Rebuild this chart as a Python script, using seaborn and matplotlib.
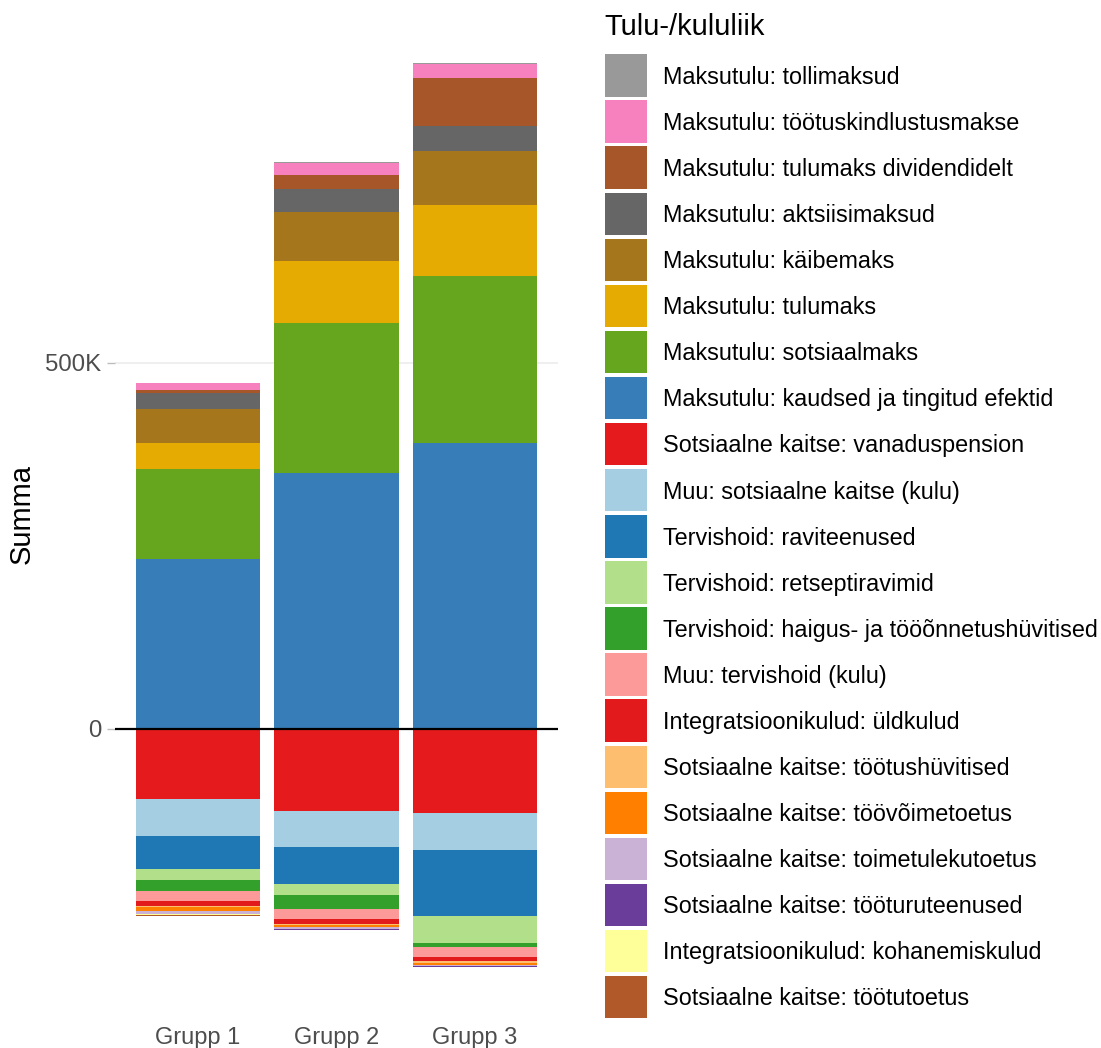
import numpy as np
import pandas as pd
import matplotlib
matplotlib.use("Agg")
import matplotlib.pyplot as plt
import seaborn as sns
from matplotlib.patches import Rectangle
from matplotlib.ticker import FuncFormatter

groups = ["Grupp 1", "Grupp 2", "Grupp 3"]

categories = [
    "Maksutulu: tollimaksud",
    "Maksutulu: töötuskindlustusmakse",
    "Maksutulu: tulumaks dividendidelt",
    "Maksutulu: aktsiisimaksud",
    "Maksutulu: käibemaks",
    "Maksutulu: tulumaks",
    "Maksutulu: sotsiaalmaks",
    "Maksutulu: kaudsed ja tingitud efektid",
    "Sotsiaalne kaitse: vanaduspension",
    "Muu: sotsiaalne kaitse (kulu)",
    "Tervishoid: raviteenused",
    "Tervishoid: retseptiravimid",
    "Tervishoid: haigus- ja tööõnnetushüvitised",
    "Muu: tervishoid (kulu)",
    "Integratsioonikulud: üldkulud",
    "Sotsiaalne kaitse: töötushüvitised",
    "Sotsiaalne kaitse: töövõimetoetus",
    "Sotsiaalne kaitse: toimetulekutoetus",
    "Sotsiaalne kaitse: tööturuteenused",
    "Integratsioonikulud: kohanemiskulud",
    "Sotsiaalne kaitse: töötutoetus",
]

colors = [
    "#999999", "#F781BF", "#A65628", "#666666", "#A6761D", "#E6AB02",
    "#66A61E", "#377EB8", "#E41A1C", "#A6CEE3", "#1F78B4", "#B2DF8A",
    "#33A02C", "#FB9A99", "#E31A1C", "#FDBF6F", "#FF7F00", "#CAB2D6",
    "#6A3D9A", "#FFFF99", "#B15928",
]

grupp1 = [400, 9150, 3700, 22300, 46400, 35100, 123400, 232200,
          -96000, -50100, -45500, -14600, -15000, -14600, -5900,
          -1800, -5000, -4100, -700, -400, -2000]
grupp2 = [400, 17200, 18700, 31000, 67800, 84300, 204500, 350100,
          -112000, -49600, -50500, -14600, -19100, -14600, -5500,
          -1800, -3100, -2700, -700, -400, -700]
grupp3 = [500, 19900, 65200, 34150, 73800, 96600, 229000, 390300,
          -114800, -50500, -90200, -36900, -5000, -14500, -5500,
          -1900, -3100, -1400, -1000, -400, -700]

values = {"Grupp 1": grupp1, "Grupp 2": grupp2, "Grupp 3": grupp3}

# Build long table with stacking cumulative values
rows = []
for g in groups:
    vals = values[g]
    cum = 0.0
    for i in reversed(range(len(categories))):
        v = vals[i]
        if v > 0:
            cum += v
            rows.append((g, categories[i], v, cum, i))
    cum = 0.0
    for i in range(len(categories)):
        v = vals[i]
        if v < 0:
            cum += v
            rows.append((g, categories[i], v, cum, i))
df = pd.DataFrame(rows, columns=["group", "category", "value", "cum", "idx"])

sns.set_theme(style="white")
plt.rcParams['font.family'] = ['Liberation Sans', 'DejaVu Sans']

W, H = 1101, 1048
fig = plt.figure(figsize=(W / 100, H / 100), dpi=100)
ax = fig.add_axes([115 / W, 1 - 1012 / H, (558 - 115) / W, (1012 - 18.5) / H])

ax.set_axisbelow(True)
ax.grid(axis="y", color="#EBEBEB", lw=1.1)
ax.grid(axis="x", visible=False)

# draw outer cumulative first so inner layers overlay (stacked look)
pos = df[df["value"] > 0].copy()
neg = df[df["value"] < 0].copy()
for part in (pos, neg):
    part = part.assign(absc=part["cum"].abs()).sort_values("absc", ascending=False)
    for _, r in part.iterrows():
        sub = pd.DataFrame({"group": [r["group"]], "cum": [r["cum"]]})
        sns.barplot(data=sub, x="group", y="cum", order=groups,
                    color=colors[int(r["idx"])], width=0.9, saturation=1,
                    errorbar=None, linewidth=0, ax=ax)

ax.axhline(0, color="black", lw=1.6, zorder=5)

ax.set_xlim(-0.6, 2.6)
ax.set_ylim(-386800, 970600)
ax.set_yticks([0, 500000])
ax.yaxis.set_major_formatter(FuncFormatter(lambda v, p: "0" if v == 0 else f"{int(v/1000)}K"))
for s in ax.spines.values():
    s.set_visible(False)
ax.tick_params(axis="y", length=6, width=1.0, color="#BDBDBD", pad=4,
               labelsize=17.3, labelcolor="#4D4D4D", left=True)
ax.tick_params(axis="x", length=0, pad=10.5, labelsize=17, labelcolor="#4D4D4D")
ax.set_xlabel("")
ax.set_ylabel("")

fig.text(22 / W, 1 - 514 / H, "Summa", rotation=90, ha="center", va="center",
         fontsize=21, color="black")

# legend
fig.text(604 / W, 1 - 35 / H, "Tulu-/kululiik", ha="left", va="baseline",
         fontsize=21, color="black")
y0 = 75.5
step = 46.08
for i, (lab, col) in enumerate(zip(categories, colors)):
    yc = y0 + i * step
    fig.add_artist(Rectangle((605 / W, 1 - (yc + 21.2) / H), 42.3 / W, 42.4 / H,
                             transform=fig.transFigure, facecolor=col,
                             edgecolor="none"))
    fig.text(663 / W, 1 - (yc + 8.3) / H, lab, ha="left", va="baseline",
             fontsize=16.8, color="black")

fig.savefig("out.png", dpi=100, facecolor="white")
